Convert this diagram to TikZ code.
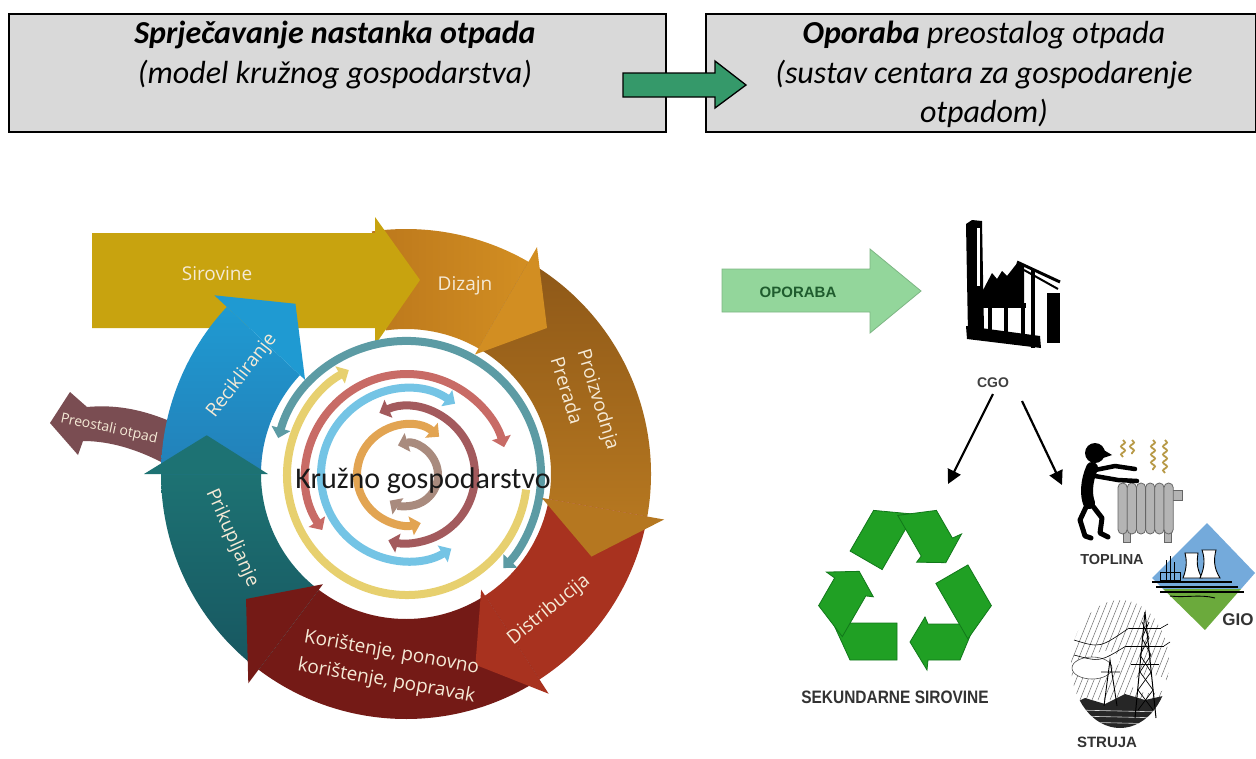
\documentclass[tikz,border=0pt]{standalone}
\usepackage{fontspec}
\usepackage{graphicx}
\usetikzlibrary{arrows.meta,calc,decorations.pathmorphing}
\newfontfamily\carlito{Carlito}
\newfontfamily\osans{Open Sans}
\newfontfamily\lsans{Liberation Sans}
\definecolor{boxgray}{HTML}{D9D9D9}
\definecolor{topgreen}{HTML}{35996A}
\definecolor{sirC}{HTML}{C8A30F}
\definecolor{dizA}{HTML}{BC781C}
\definecolor{dizB}{HTML}{D28E22}
\definecolor{proA}{HTML}{8E5818}
\definecolor{proB}{HTML}{B57720}
\definecolor{disC}{HTML}{A8321F}
\definecolor{korC}{HTML}{741A16}
\definecolor{priA}{HTML}{1D7273}
\definecolor{priB}{HTML}{175660}
\definecolor{recA}{HTML}{1F9AD2}
\definecolor{recB}{HTML}{2380B8}
\definecolor{preC}{HTML}{7A4D52}
\definecolor{ringT}{HTML}{5C9BA4}
\definecolor{ringY}{HTML}{E7D06F}
\definecolor{ringS}{HTML}{C86B66}
\definecolor{ringL}{HTML}{74C4E5}
\definecolor{ringM}{HTML}{A35A5D}
\definecolor{ringO}{HTML}{E2A452}
\definecolor{ringB}{HTML}{A98B7E}
\definecolor{labC}{HTML}{F5EAD6}
\definecolor{opoC}{HTML}{93D69B}
\definecolor{opoT}{HTML}{1F5C2E}
\definecolor{recG}{HTML}{20A024}
\definecolor{recD}{HTML}{11781A}
\definecolor{radG}{HTML}{B4B4B4}
\definecolor{heatC}{HTML}{B89A48}
\definecolor{gioB}{HTML}{74AADB}
\definecolor{gioG}{HTML}{6BAA3C}
\newcommand\ringbody[3]{\path[#3] ($(C)+(#1:245)$) arc[start angle=#1,end angle=#2,radius=245] -- ($(C)+(#2:145)$) arc[start angle=#2,end angle=#1,radius=145] -- cycle;}
\newcommand\ringhead[3]{\fill[#3] ($(C)+(#1:138)$) -- ($(C)+(#1:262)$) -- ($(C)+(#2:203)$) -- cycle;}
\tikzset{
  topbox/.style={draw=black, line width=2pt, fill=boxgray, inner sep=0, anchor=north west},
  toptext/.style={inner sep=0, font=\carlito\itshape\fontsize{32}{39}\selectfont},
  seglbl/.style={text=labC, font=\osans\fontsize{19}{23}\selectfont, inner sep=0},
  thinring/.style={line width=8pt},
  rtip/.tip={Triangle[length=10pt,width=19pt]},
  cgoarrow/.style={line width=2.2pt, -{Triangle[length=14pt,width=14pt]}},
  iconlbl/.style={inner sep=0, text=black!80, font=\lsans\bfseries\fontsize{14.5}{17}\selectfont},
  limb/.style={black, line cap=round, line join=round}
}
\begin{document}
\begin{tikzpicture}[x=1pt,y=1pt]
\useasboundingbox (0,0) rectangle (1256,-758);
\fill[white] (0,0) rectangle (1256,-758);
% ---------- top boxes ----------
\node[topbox, minimum width=657pt, minimum height=118pt] (boxL) at (8,-13) {};
\node[topbox, minimum width=550pt, minimum height=118pt] (boxR) at (705,-13) {};
\node[toptext, font=\carlito\bfseries\itshape\fontsize{32}{39}\selectfont] (tl1) at (335,-35) {Sprječavanje nastanka otpada};
\node[toptext] (tl2) at (335,-75) {(model kružnog gospodarstva)};
\node[toptext] (tr1) at (984,-35) {\textbf{Oporaba} preostalog otpada};
\node[toptext] (tr2) at (984,-75) {(sustav centara za gospodarenje};
\node[toptext] (tr3) at (984,-113) {otpadom)};
\filldraw[fill=topgreen, draw=black, line width=1.3pt] (623,-73) -- (715,-73) -- (715,-61) -- (746,-85) -- (715,-108) -- (715,-97) -- (623,-97) -- cycle;
% ---------- circular diagram ----------
\coordinate (C) at (406,-474);
\coordinate (D) at (407,-475);
% remaining waste arrow
\fill[preC] (50,-423) -- (70,-392) -- (87,-407) .. controls (120,-404) and (150,-411) .. (185,-428) -- (185,-476) .. controls (150,-453) and (115,-441) .. (83,-441) -- (78,-455) -- cycle;
% bodies
\ringbody{98}{60}{left color=dizA, right color=dizB}
\ringbody{60}{-10}{top color=proA, bottom color=proB}
\ringbody{-10}{-57}{fill=disC}
\ringbody{-57}{-127}{fill=korC}
\ringbody{-127}{-180}{top color=priA, bottom color=priB}
% raw materials arrow
\fill[sirC] (92,-233) -- (375,-233) -- (375,-217) -- (420,-280) -- (375,-345) -- (375,-328) -- (92,-328) -- cycle;
\ringbody{180}{137}{top color=recA, bottom color=recB}
% thin inner rings
\draw[thinring, ringT, {rtip}-{rtip}] ($(D)+(164:134)$) arc[start angle=164, end angle=-44, radius=134];
\draw[thinring, ringY, -{rtip}] ($(D)+(-7:120)$) arc[start angle=-7, end angle=-241, radius=120];
\draw[thinring, ringS, {rtip}-{rtip}] ($(D)+(213:101)$) arc[start angle=213, end angle=16, radius=101];
\draw[thinring, ringL, {rtip}-{rtip}] ($(D)+(56:86)$) arc[start angle=56, end angle=301, radius=86];
\draw[thinring, ringM, {rtip}-{rtip}] ($(D)+(114:68)$) arc[start angle=114, end angle=-106, radius=68];
\draw[thinring, ringO, {rtip}-{rtip}] ($(D)+(50:50)$) arc[start angle=50, end angle=286, radius=50];
\draw[thinring, ringB, {rtip}-{rtip}] ($(D)+(107:31)$) arc[start angle=107, end angle=-124, radius=31];
% heads
\ringhead{60}{46}{dizB}
\ringhead{-10}{-24}{proB}
\ringhead{-57}{-70}{disC}
\ringhead{-127}{-142}{korC}
\ringhead{180}{169}{priA}
\ringhead{137}{123}{recA}
% labels
\node[seglbl] (lSir) at (217,-274) {Sirovine};
\node[seglbl] (lDiz) at (465,-286) {Dizajn};
\node[seglbl, rotate=-73, anchor=west] (lPro) at (582,-350) {Proizvodnja};
\node[seglbl, rotate=-73, anchor=west] (lPre) at (557,-357) {Prerada};
\node[seglbl, rotate=39] (lDis) at (549,-610) {Distribucija};
\node[seglbl, rotate=-10, align=center, font=\osans\fontsize{19}{29}\selectfont] (lKor) at (389,-667) {Korištenje, ponovno\\korištenje, popravak};
\node[seglbl, rotate=-66] (lPri) at (232,-538) {Prikupljanje};
\node[seglbl, rotate=52] (lRec) at (242,-376) {Recikliranje};
\node[seglbl, rotate=-12, font=\osans\fontsize{14}{17}\selectfont] (lPreo) at (109,-429) {Preostali otpad};
\node[inner sep=0, text=black!90, font=\carlito\fontsize{30}{36}\selectfont] (kg) at (423,-481) {Kružno gospodarstvo};
% ---------- right side ----------
\filldraw[fill=opoC, draw=opoC!85!black, line width=0.8pt] (722,-269) -- (870,-269) -- (870,-249) -- (921,-291) -- (870,-333) -- (870,-312) -- (722,-312) -- cycle;
\node[iconlbl, text=opoT, font=\lsans\bfseries\fontsize{15}{18}\selectfont] (opo) at (798,-292) {OPORABA};
% factory
\fill[black] (966,-224) -- (972,-220) -- (982,-221) -- (984,-330) -- (968,-334) -- cycle;
\fill[white] (977,-228) rectangle (980,-286);
\fill[black] (982,-305) -- (982,-292) -- (992,-273) -- (997,-279) -- (1002,-271) -- (1007,-276) -- (1018,-262) -- (1024,-266) -- (1024,-305) -- cycle;
\draw[black, line width=3pt, line join=round] (1017,-262) -- (1060,-282);
\draw[black, line width=2pt] (1024,-270) -- (1058,-289);
\fill[black] (982,-303) rectangle (1026,-308);
\fill[black] (988,-303) rectangle (992,-332);
\fill[black] (1004,-303) rectangle (1008,-332);
\fill[black] (1021,-303) rectangle (1025,-334);
\fill[black] (1031,-270) rectangle (1035,-348);
\fill[black] (1047,-293) rectangle (1060,-343);
\fill[black] (966,-326) -- (1040,-336) -- (1041,-348) -- (967,-339) -- cycle;
\node[iconlbl, font=\lsans\bfseries\fontsize{14}{17}\selectfont, text=black!75] (cgo) at (993,-383) {CGO};
\coordinate (cgoL) at (993,-394);
\coordinate (cgoR) at (1022,-401);
\coordinate (sekTop) at (948,-484);
\coordinate (topTop) at (1062,-485);
\draw[cgoarrow] (cgoL) -- (sekTop);
\draw[cgoarrow] (cgoR) -- (topTop);
% recycling symbol
\begin{scope}[shift={(905,-592)}]
\foreach \r in {0,-120,-240}{
  \begin{scope}[rotate=\r]
  \filldraw[fill=recG, draw=recD, line width=0.8pt] (-72,-31) -- (-8,-31) -- (-8,-68) -- (-55,-68) -- cycle;
  \filldraw[fill=recG, draw=recD, line width=0.8pt] (5,-50) -- (20,-25) -- (23,-32) -- (70,-32) -- (55,-68) -- (23,-68) -- (22,-78) -- cycle;
  \end{scope}}
\end{scope}
\node[iconlbl, font=\lsans\bfseries\fontsize{18}{20}\selectfont] (sek) at (895,-697) {\scalebox{0.86}[1]{SEKUNDARNE SIROVINE}};
% heat: person and radiator
\foreach \x/\a/\b in {1123/440/457,1132/440/454,1153/440/470,1165/440/473}
  \draw[heatC, line width=1.8pt, decorate, decoration={snake, amplitude=2pt, segment length=8pt}] (\x,-\a) -- (\x,-\b);
\filldraw[fill=radG, draw=black!60, line width=0.8pt] (1123,-530) rectangle (1130,-542);
\filldraw[fill=radG, draw=black!60, line width=0.8pt] (1164,-530) rectangle (1171,-542);
\filldraw[fill=radG, draw=black!60, line width=0.8pt] (1172,-490) rectangle (1182,-500);
\foreach \i in {0,...,5}
  \filldraw[fill=radG, draw=black!60, line width=0.8pt, rounded corners=4.5pt] ({1118+\i*9.2},-483) rectangle ({1127.2+\i*9.2},-534);
\fill[black] (1095,-453) circle (10);
\fill[black] (1097,-446) -- (1112,-455) -- (1100,-459) -- cycle;
\draw[limb, line width=12pt] (1092,-468) .. controls (1086,-482) and (1086,-495) .. (1089,-503);
\draw[limb, line width=4.5pt] (1095,-470) -- (1115,-466) -- (1135,-469);
\draw[limb, line width=4.5pt] (1095,-476) -- (1118,-480) -- (1137,-481);
\draw[limb, line width=5pt] (1087,-505) -- (1080,-520) -- (1085,-536) -- (1091,-538);
\draw[limb, line width=5pt] (1092,-505) -- (1102,-518) -- (1100,-533) -- (1108,-537);
\node[iconlbl] (topl) at (1112,-559) {TOPLINA};
% GIO diamond
\begin{scope}
\clip (1207,-523) -- (1255,-573) -- (1205,-630) -- (1152,-578) -- cycle;
\fill[gioB] (1140,-510) rectangle (1260,-589);
\fill[gioG] (1140,-589) rectangle (1260,-640);
\end{scope}
\filldraw[fill=white, draw=black, line width=0.9pt] (1183,-578) .. controls (1188,-565) and (1186,-558) .. (1185,-553) -- (1198,-553) .. controls (1197,-560) and (1196,-568) .. (1202,-578) -- cycle;
\filldraw[fill=white, draw=black, line width=0.9pt] (1200,-578) .. controls (1206,-565) and (1204,-556) .. (1202,-550) -- (1216,-550) .. controls (1214,-558) and (1213,-567) .. (1220,-578) -- cycle;
\draw[black, line width=1pt] (1166,-580) -- (1166,-560) (1170,-580) -- (1170,-556) (1174,-580) -- (1174,-562) (1160,-572) rectangle (1180,-580);
\draw[black, line width=1.2pt] (1152,-582) -- (1232,-582) (1156,-587) -- (1238,-587) (1160,-592) -- (1244,-592);
\draw[black, line width=0.9pt] (1170,-596) .. controls (1185,-598) and (1200,-594) .. (1215,-598);
\node[iconlbl, font=\lsans\bfseries\fontsize{17}{20}\selectfont] (gio) at (1238,-620) {GIO};
% power lines
\begin{scope}
\clip (1120,-664) ellipse [x radius=49, y radius=64];
\foreach \i in {0,...,24}
  \draw[black!55, line width=0.5pt] ({1050+\i*6},-700) -- ({1090+\i*6},-600);
\fill[white] (1092,-668) ellipse [x radius=20, y radius=11];
\fill[white] (1106,-660) ellipse [x radius=14, y radius=9];
\fill[white] (1150,-684) ellipse [x radius=18, y radius=9];
\fill[black!85] (1068,-706) -- (1085,-698) -- (1105,-704) -- (1125,-694) -- (1145,-700) -- (1172,-694) -- (1172,-730) -- (1068,-730) -- cycle;
\foreach \y in {710,716,722}
  \draw[white!70!gray, line width=0.6pt] (1075,-\y) -- (1165,-\y-2);
\end{scope}
\draw[black!70, line width=0.6pt] (1092,-668) ellipse [x radius=20, y radius=11];
\draw[black, line width=1pt] (1135,-718) -- (1145,-612) -- (1156,-718);
\draw[black, line width=1pt] (1129,-628) -- (1161,-628) (1126,-646) -- (1164,-646) (1131,-664) -- (1159,-664);
\draw[black, line width=0.7pt] (1138,-710) -- (1153,-690) -- (1140,-672) -- (1151,-655) -- (1142,-638) -- (1149,-622);
\draw[black, line width=0.7pt] (1153,-710) -- (1138,-690) -- (1151,-672) -- (1140,-655) -- (1149,-638) -- (1142,-622);
\draw[black, line width=0.9pt] (1104,-706) -- (1110,-660) -- (1117,-706) (1101,-672) -- (1120,-672);
\draw[black, line width=0.6pt] (1074,-640) .. controls (1100,-648) .. (1129,-628) (1074,-655) .. controls (1100,-662) .. (1126,-646) (1161,-628) -- (1168,-624) (1164,-646) -- (1170,-642);
\node[iconlbl, font=\lsans\bfseries\fontsize{15}{18}\selectfont] (str) at (1107,-742) {STRUJA};
\end{tikzpicture}
\end{document}
